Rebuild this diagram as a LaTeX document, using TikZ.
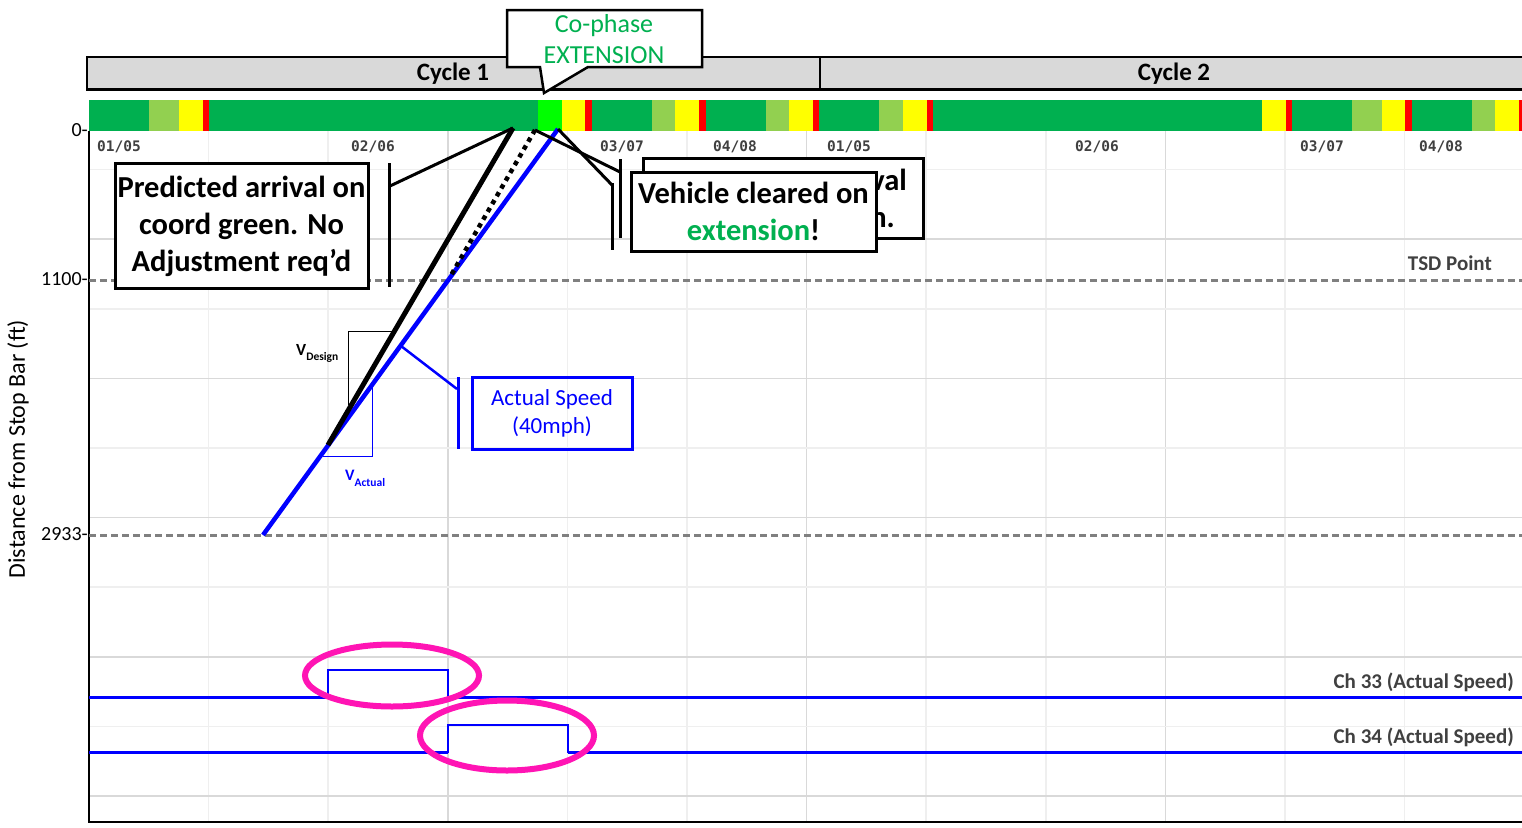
\documentclass[tikz,border=0pt]{standalone}
\usepackage{fontspec}
\setmainfont{Carlito}
\newfontfamily\phasefont{DejaVu Sans Mono}
\definecolor{sigdark}{HTML}{00B050}
\definecolor{siglight}{HTML}{92D050}
\definecolor{sigyellow}{HTML}{FFFF00}
\definecolor{sigred}{HTML}{FF0000}
\definecolor{sigext}{HTML}{00FF00}
\definecolor{cyclegrey}{HTML}{D9D9D9}
\definecolor{gridlight}{HTML}{EFEFEF}
\definecolor{griddark}{HTML}{D9D9D9}
\definecolor{tsdgrey}{HTML}{808080}
\definecolor{labelgrey}{HTML}{404040}
\definecolor{ringpink}{RGB}{255,20,180}
\definecolor{extgreen}{HTML}{00B050}
\definecolor{speedblue}{HTML}{0000FF}
\begin{document}
\begin{tikzpicture}[x=1pt,y=-1pt,
  calloutbox/.style={draw=black, line width=3, fill=white, inner sep=0pt,
    align=center, font=\fontsize{30.5}{37}\selectfont\bfseries},
  leader/.style={black, line width=3},
  phaselabel/.style={anchor=west, text=labelgrey, inner sep=0pt,
    font=\phasefont\bfseries\fontsize{14.5}{16}\selectfont},
  ticklabel/.style={anchor=east, inner sep=0pt, font=\fontsize{20}{22}\selectfont},
  chartlabel/.style={anchor=base east, inner sep=0pt, text=labelgrey,
    font=\fontsize{21}{24}\selectfont\bfseries},
  refline/.style={tsdgrey, line width=3, dash pattern=on 7pt off 4pt},
  ring/.style={ringpink, line width=6},
  channel/.style={speedblue, line width=3},
  pulse/.style={speedblue, line width=2},
]
\useasboundingbox (0,0) rectangle (1522,827);
\fill[white] (0,0) rectangle (1522,827);

% grid
\foreach \k in {1,...,11}{
  \pgfmathsetmacro{\gx}{89+119.6*\k}
  \pgfmathtruncatemacro{\major}{mod(\k,3)==0 ? 1 : 0}
  \ifnum\major=1
    \draw[griddark, line width=1.5] (\gx,131) -- (\gx,822);
  \else
    \draw[gridlight, line width=1.5] (\gx,131) -- (\gx,822);
  \fi
}
\foreach \k in {0,...,9}{
  \pgfmathsetmacro{\gy}{169.6+69.6*\k}
  \pgfmathtruncatemacro{\major}{mod(\k,2)==1 ? 1 : 0}
  \ifnum\major=1
    \draw[griddark, line width=1.5] (89,\gy) -- (1522,\gy);
  \else
    \draw[gridlight, line width=1.5] (89,\gy) -- (1522,\gy);
  \fi
}

% axes
\draw[black, line width=2] (89,131) -- (89,822) -- (1522,822);
\node[ticklabel] (t0) at (88,130) {0-};
\node[ticklabel] (t1100) at (88,279) {1100-};
\node[ticklabel] (t2933) at (88,534) {2933-};
\node[rotate=90, font=\fontsize{24}{26}\selectfont, inner sep=0pt] (ylab) at (18,449) {Distance from Stop Bar (ft)};

% cycle headers
\fill[cyclegrey] (87,57) rectangle (1522,89.5);
\draw[black, line width=2.5] (1522,57) -- (87,57) -- (87,89.5) -- (1522,89.5);
\draw[black, line width=2.5] (820,57) -- (820,89.5);
\node[font=\fontsize{25}{28}\selectfont\bfseries] (cyc1) at (453,73.5) {Cycle 1};
\node[font=\fontsize{25}{28}\selectfont\bfseries] (cyc2) at (1174,73.5) {Cycle 2};

% signal state bar
\foreach \a/\b/\c in {89/149/sigdark,149/179/siglight,179/203/sigyellow,203/209/sigred,
  209/538/sigdark,538/562/sigext,562/585/sigyellow,585/592/sigred,
  592/652/sigdark,652/675/siglight,675/699/sigyellow,699/706/sigred,
  706/766/sigdark,766/789/siglight,789/813/sigyellow,813/819/sigred,
  819/879/sigdark,879/903/siglight,903/927/sigyellow,927/933/sigred,
  933/1262/sigdark,1262/1286/sigyellow,1286/1292/sigred,
  1292/1352/sigdark,1352/1382/siglight,1382/1405/sigyellow,1405/1412/sigred,
  1412/1472/sigdark,1472/1495/siglight,1495/1519/sigyellow,1519/1522/sigred}{
  \fill[\c] (\a,100) rectangle (\b,131);
}

% phase labels
\foreach \px/\txt [count=\i] in {97/01\slash05,351/02\slash06,600/03\slash07,713/04\slash08,
  827/01\slash05,1075/02\slash06,1300/03\slash07,1419/04\slash08}{
  \node[phaselabel] (ph\i) at (\px,147) {\txt};
}

% reference distances
\draw[refline] (89,280.7) -- (1522,280.7);
\draw[refline] (89,535) -- (1522,535);
\node[chartlabel] (tsd) at (1492,270) {TSD Point};

% trajectories
\coordinate (bluestart) at (263,535);
\coordinate (blueend) at (558,129);
\coordinate (blackstart) at (328,445);
\coordinate (blackend) at (513,128);
\coordinate (dotstart) at (535,130);
\coordinate (dotend) at (450,277);
\draw[speedblue, line width=4.5] (bluestart) -- (blueend);
\draw[black, line width=4.5, dash pattern=on 4.5pt off 4.5pt] (dotstart) -- (dotend);
\draw[black, line width=5] (blackstart) -- (blackend);

% slope indicators
\draw[black, line width=1] (348,405) -- (348,331) -- (393,331);
\draw[speedblue, line width=1] (372,387) -- (372,456) -- (323,456);
\node[anchor=base west, inner sep=0pt] (vdesign) at (296,355)
  {\bfseries\fontsize{17}{18}\selectfont V\raisebox{-5pt}{\fontsize{11.5}{12}\selectfont Design}};
\node[anchor=base west, inner sep=0pt, text=speedblue] (vactual) at (345,480)
  {\bfseries\fontsize{16}{18}\selectfont V\raisebox{-6pt}{\fontsize{11.5}{12}\selectfont Actual}};

% predicted arrival callout
\node[calloutbox, minimum width=253, minimum height=125] (predicted) at (241.5,226)
  {Predicted arrival on\\coord green. No\\Adjustment req’d};
\coordinate (predbarT) at (389,163);
\coordinate (predbarB) at (389,287);
\coordinate (predtip) at (390,186);
\draw[leader] (predbarT) -- (predbarB);
\draw[leader] (predtip) -- (blackend);

% rear callout
\coordinate (rearbarT) at (620,159);
\coordinate (rearbarB) at (620,238);
\draw[leader] (rearbarT) -- (rearbarB);
\draw[leader] (dotstart) -- (620,172);
\node[draw=black, line width=3, fill=white, minimum width=280, minimum height=80, inner sep=0pt] (rearbox) at (783,198) {};
\node[anchor=base east, inner sep=0pt, font=\fontsize{30.5}{37}\selectfont\bfseries] (rearA) at (907,190) {val};
\node[anchor=base east, inner sep=0pt, font=\fontsize{30.5}{37}\selectfont\bfseries] (rearB) at (895,227) {n.};

% cleared callout
\coordinate (clearbarT) at (612,183);
\coordinate (clearbarB) at (612,250);
\draw[leader] (clearbarT) -- (clearbarB);
\draw[leader] (blueend) -- (612,185);
\node[calloutbox, minimum width=245, minimum height=79] (cleared) at (753.5,211.5)
  {Vehicle cleared on\\\textcolor{extgreen}{extension}!};

% co-phase extension callout
\draw[black, line width=2.5, fill=white, line join=miter]
  (507,10) -- (702,10) -- (702,67) -- (588,67) -- (544,93) -- (540,67) -- (507,67) -- cycle;
\node[font=\fontsize{26}{31}\selectfont, text=extgreen, align=center, inner sep=0pt] (cophase) at (604,39)
  {Co-phase\\EXTENSION};

% actual speed callout
\node[draw=speedblue, line width=3, text=speedblue, align=center, inner sep=0pt,
  minimum width=160, minimum height=72, font=\fontsize{23}{28}\selectfont] (actual) at (552,413)
  {Actual Speed\\(40mph)};
\coordinate (actbarT) at (458,377);
\coordinate (actbarB) at (458,449);
\coordinate (actpt) at (401,346);
\draw[speedblue, line width=3] (actbarT) -- (actbarB);
\draw[speedblue, line width=2.5] (actpt) -- (457,389);

% detector channels
\draw[channel] (89,697.5) -- (328,697.5);
\draw[pulse] (328,697.5) -- (328,670) -- (448,670) -- (448,697.5);
\draw[channel] (448,697.5) -- (1522,697.5);
\draw[channel] (89,752.5) -- (448,752.5);
\draw[pulse] (448,752.5) -- (448,725) -- (568,725) -- (568,752.5);
\draw[channel] (568,752.5) -- (1522,752.5);
\node[chartlabel] (ch33) at (1514,688.5) {Ch 33 (Actual Speed)};
\node[chartlabel] (ch34) at (1514,743.5) {Ch 34 (Actual Speed)};

% highlight rings
\draw[ring] (392,675.5) ellipse [x radius=87, y radius=31];
\draw[ring] (507,735.5) ellipse [x radius=87, y radius=35];
\end{tikzpicture}
\end{document}
